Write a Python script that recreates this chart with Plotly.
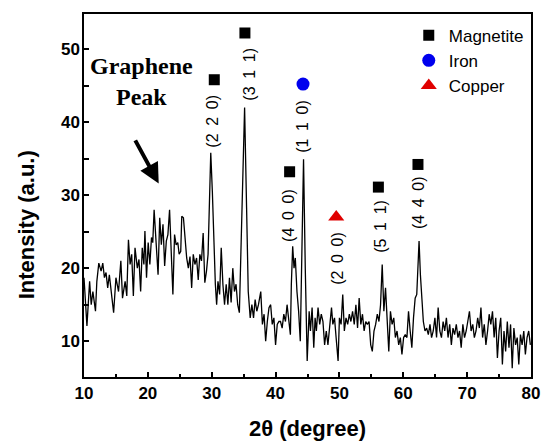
import plotly.graph_objects as go

two_theta = [
    10.00, 10.46, 10.88, 11.13, 11.39, 11.80, 12.01, 12.32, 12.68, 12.94, 13.20, 13.45, 13.71, 13.97,
    14.38, 14.64, 15.00, 15.41, 15.77, 16.03, 16.44, 16.70, 16.96, 17.22, 17.47, 17.73, 17.99, 18.35,
    18.61, 18.87, 19.12, 19.38, 19.54, 19.79, 20.05, 20.31, 20.57, 20.77, 20.98, 21.29, 21.60, 21.86,
    22.11, 22.37, 22.63, 22.89, 23.14, 23.40, 23.66, 23.92, 24.18, 24.43, 24.69, 24.90, 25.15, 25.31,
    25.57, 25.82, 26.08, 26.34, 26.60, 26.86, 27.11, 27.37, 27.63, 27.89, 28.14, 28.40, 28.66, 28.92,
    29.18, 29.43, 29.69, 29.85, 30.10, 30.36, 30.57, 30.77, 30.98, 31.24, 31.49, 31.75, 32.01, 32.27,
    32.53, 32.78, 33.04, 33.30, 33.56, 33.81, 34.07, 34.33, 34.59, 34.85, 35.15, 35.46, 35.72, 36.03,
    36.29, 36.55, 36.80, 37.06, 37.32, 37.68, 37.94, 38.20, 38.45, 38.71, 38.97, 39.23, 39.48, 39.74,
    40.00, 40.26, 40.52, 40.77, 41.03, 41.29, 41.55, 41.80, 42.06, 42.32, 42.47, 42.68, 42.89, 43.09,
    43.35, 43.61, 43.87, 44.12, 44.38, 44.65, 44.95, 45.26, 45.46, 45.72, 45.98, 46.19, 46.39, 46.65,
    46.91, 47.16, 47.42, 47.68, 47.94, 48.20, 48.45, 48.76, 48.97, 49.23, 49.48, 49.79, 50.00, 50.26,
    50.52, 50.77, 51.03, 51.29, 51.55, 51.80, 52.06, 52.32, 52.58, 52.84, 53.09, 53.35, 53.61, 53.87,
    54.12, 54.38, 54.64, 54.90, 55.15, 55.41, 55.67, 55.93, 56.19, 56.44, 56.70, 56.96, 57.22, 57.47,
    57.73, 57.99, 58.25, 58.51, 58.76, 59.02, 59.28, 59.54, 59.79, 60.05, 60.31, 60.57, 60.82, 61.08,
    61.34, 61.60, 61.86, 62.11, 62.32, 62.47, 62.68, 62.89, 63.14, 63.40, 63.66, 63.92, 64.18, 64.43,
    64.69, 64.95, 65.21, 65.46, 65.72, 65.98, 66.24, 66.49, 66.75, 67.01, 67.27, 67.53, 67.78, 68.04,
    68.30, 68.56, 68.81, 69.07, 69.33, 69.59, 69.85, 70.10, 70.36, 70.62, 70.88, 71.13, 71.39, 71.65,
    71.91, 72.16, 72.42, 72.68, 72.94, 73.20, 73.45, 73.71, 73.97, 74.23, 74.48, 74.74, 75.00, 75.26,
    75.52, 75.77, 76.03, 76.29, 76.55, 76.80, 77.06, 77.32, 77.58, 77.84, 78.09, 78.35, 78.61, 78.87,
    79.12, 79.38, 79.64, 79.90,
]
intensity = [
    18.7, 12.1, 18.2, 15.0, 16.8, 14.1, 18.2, 20.7, 19.6, 20.7, 18.7, 19.4, 17.3, 19.1,
    15.9, 13.9, 18.7, 16.8, 21.0, 15.9, 18.2, 16.2, 23.9, 20.5, 21.9, 16.2, 22.8, 20.0,
    21.2, 16.8, 22.8, 20.5, 25.1, 18.7, 23.5, 20.5, 24.2, 23.5, 28.0, 22.8, 19.1, 26.9,
    23.2, 26.0, 20.3, 23.7, 24.6, 28.0, 22.8, 16.4, 24.6, 23.2, 23.5, 21.9, 22.3, 27.1,
    26.9, 24.2, 21.4, 20.0, 21.6, 17.3, 21.9, 20.5, 21.4, 18.4, 21.9, 21.0, 24.8, 18.0,
    19.6, 21.9, 30.5, 35.8, 30.5, 22.8, 17.8, 15.0, 18.2, 16.4, 22.8, 17.8, 15.0, 17.8,
    15.0, 18.7, 15.3, 20.0, 16.8, 17.8, 15.0, 13.9, 22.8, 28.3, 42.0, 28.3, 16.8, 13.2,
    15.0, 13.2, 15.7, 14.1, 15.0, 16.8, 12.3, 13.7, 10.0, 12.7, 14.6, 15.0, 12.3, 13.2,
    9.5, 12.3, 12.7, 12.7, 11.8, 13.7, 12.7, 15.0, 12.7, 10.9, 17.8, 23.0, 20.0, 21.4,
    16.8, 14.1, 10.0, 22.3, 34.9, 20.0, 7.3, 14.1, 11.4, 14.6, 9.1, 13.2, 11.4, 14.6,
    12.3, 13.7, 12.7, 9.5, 11.4, 9.5, 12.3, 14.6, 12.3, 13.2, 10.5, 7.3, 13.2, 12.3,
    16.4, 11.4, 13.2, 12.3, 13.7, 12.7, 14.1, 12.3, 15.0, 11.8, 15.9, 12.3, 13.7, 11.4,
    12.7, 12.3, 12.7, 9.5, 8.6, 11.4, 12.3, 13.7, 12.7, 15.0, 20.5, 14.1, 17.3, 13.2,
    8.6, 14.1, 12.3, 13.2, 10.5, 11.4, 9.5, 10.5, 8.2, 10.5, 10.9, 10.5, 14.1, 11.4,
    9.1, 13.2, 15.9, 16.4, 20.5, 23.7, 19.1, 15.9, 12.7, 11.4, 11.8, 10.9, 12.3, 10.5,
    11.4, 13.2, 10.5, 14.6, 11.4, 10.5, 12.7, 11.4, 13.2, 10.5, 12.3, 9.5, 11.8, 10.9,
    12.3, 10.5, 11.4, 9.1, 12.3, 10.5, 11.4, 12.7, 14.1, 11.4, 12.3, 10.5, 11.4, 13.2,
    11.8, 14.6, 10.5, 12.3, 9.5, 11.4, 13.7, 12.3, 14.1, 10.5, 13.2, 7.7, 11.4, 13.2,
    6.8, 11.4, 8.6, 12.7, 9.1, 12.3, 6.3, 11.8, 9.5, 10.5, 6.8, 10.9, 9.5, 11.4,
    8.2, 10.5, 11.4, 9.5,
]

# phase markers
magnetite_x = [30.4, 35.2, 42.2, 56.1, 62.3]
magnetite_y = [45.8, 52.2, 33.2, 31.1, 34.2]
iron_x = [44.3]
iron_y = [45.2]
copper_x = [49.5]
copper_y = [27.0]

# reflection labels
hkl_labels = ["(2 2 0)", "(3 1 1)", "(4 0 0)", "(1 1 0)", "(2 0 0)", "(5 1 1)", "(4 4 0)"]
hkl_x = [30.2, 36.0, 42.0, 44.2, 49.8, 56.5, 62.4]
hkl_y = [40.2, 46.5, 27.2, 39.4, 21.3, 25.8, 29.0]

FONT = "Arial, Liberation Sans, sans-serif"

fig = go.Figure()
fig.add_trace(go.Scatter(x=two_theta, y=intensity, mode="lines",
                         line=dict(color="black", width=1.3), showlegend=False))
fig.add_trace(go.Scatter(x=magnetite_x, y=magnetite_y, mode="markers", name="Magnetite",
                         marker=dict(symbol="square", size=11, color="black")))
fig.add_trace(go.Scatter(x=iron_x, y=iron_y, mode="markers", name="Iron",
                         marker=dict(symbol="circle", size=13, color="#0000ee")))
fig.add_trace(go.Scatter(x=copper_x, y=copper_y, mode="markers", name="Copper",
                         marker=dict(symbol="triangle-up", size=14, color="#e00000")))

for t, x, y in zip(hkl_labels, hkl_x, hkl_y):
    fig.add_annotation(x=x, y=y, text=t.replace(" ", "\u2009 "), textangle=-90, showarrow=False,
                       font=dict(family=FONT, size=16, color="black"))

fig.add_annotation(x=19.0, y=45.6, text="<b>Graphene</b><br><b>Peak</b>", showarrow=False,
                   font=dict(family="Times New Roman, Liberation Serif, serif", size=24, color="black"))
fig.add_annotation(x=21.7, y=31.6, ax=17.9, ay=37.7, axref="x", ayref="y", xref="x", yref="y",
                   text="", showarrow=True, arrowhead=2, arrowsize=1.0, arrowwidth=4,
                   arrowcolor="black")

# axis titles
fig.add_annotation(xref="paper", yref="paper", x=-0.128, y=0.42, xanchor="center", yanchor="middle",
                   text="<b>Intensity (a.u.)</b>", textangle=-90, showarrow=False,
                   font=dict(family=FONT, size=22, color="black"))
fig.add_annotation(xref="paper", yref="paper", x=0.5, y=-0.141, xanchor="center", yanchor="middle",
                   text="<b>2θ (degree)</b>", showarrow=False,
                   font=dict(family=FONT, size=22, color="black"))

fig.update_layout(
    width=552, height=443,
    margin=dict(l=84, r=16, t=13, b=66),
    paper_bgcolor="white", plot_bgcolor="white",
    font=dict(family=FONT, color="black"),
    legend=dict(x=0.995, y=0.99, xanchor="right", yanchor="top",
                font=dict(family=FONT, size=17, color="black"),
                bgcolor="rgba(0,0,0,0)", itemwidth=30, tracegroupgap=0),
)
fig.update_xaxes(range=[10, 80], tickvals=[10, 20, 30, 40, 50, 60, 70, 80],
                 ticks="inside", ticklen=5, tickwidth=1.5, tickcolor="black",
                 minor=dict(dtick=5, tick0=0, ticks="inside", ticklen=3, tickcolor="black", tickwidth=1.5),
                 showline=True, linecolor="black", linewidth=1.5, mirror=True,
                 showgrid=False, zeroline=False,
                 tickfont=dict(family=FONT, size=17, weight="bold"))
fig.update_yaxes(range=[5.1, 54.8], tickvals=[10, 20, 30, 40, 50],
                 ticks="inside", ticklen=5, tickwidth=1.5, tickcolor="black",
                 minor=dict(dtick=5, tick0=0, ticks="inside", ticklen=5, tickcolor="black", tickwidth=1.5),
                 showline=True, linecolor="black", linewidth=1.5, mirror=True,
                 showgrid=False, zeroline=False, ticklabelstandoff=-1,
                 tickfont=dict(family=FONT, size=17, weight="bold"))

fig.write_html("out.html")
